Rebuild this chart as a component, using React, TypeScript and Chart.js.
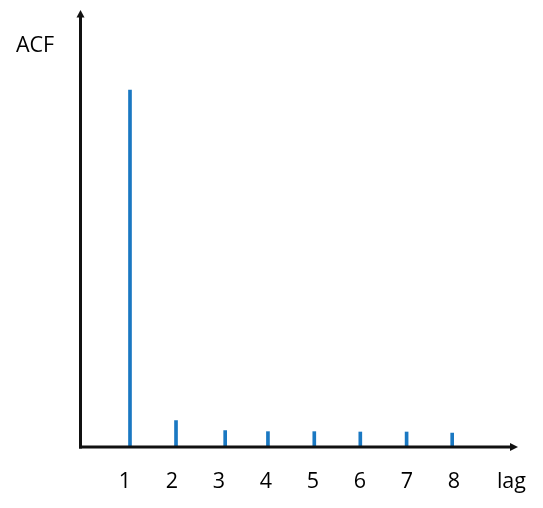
import React, { useEffect, useRef } from "react";
import { Chart, registerables } from "chart.js";

Chart.register(...registerables);

// Data
const lagPositions = [1.085, 2.064, 3.11, 4.02, 5.006, 5.985, 6.97, 7.94];
const acfValues = [1.0, 0.074, 0.046, 0.043, 0.043, 0.042, 0.042, 0.039];
const xTickValues = [1, 2, 3, 4, 5, 6, 7, 8];
const xTickLabels = ["1", "2", "3", "4", "5", "6", "7", "8"];
const xAxisTitle = "lag";
const xAxisTitleValue = 9.2;
const yAxisTitle = "ACF";
const xMax = 9.34;
const yMax = 1.224;

const FONT = '21.5px "Open Sans", "Noto Sans", sans-serif';

const axesPlugin = {
  id: "arrowAxes",
  afterDatasetsDraw(chart: any) {
    const { ctx, chartArea, scales } = chart;
    const x = scales.x;
    const y = scales.y;
    const ox = x.getPixelForValue(0) + 1.5;
    const oy = y.getPixelForValue(0);
    const top = y.getPixelForValue(yMax);
    const right = x.getPixelForValue(xMax);
    ctx.save();
    ctx.strokeStyle = "#111111";
    ctx.fillStyle = "#111111";
    ctx.lineWidth = 3;
    // y axis
    ctx.beginPath();
    ctx.moveTo(ox, oy + 1.5);
    ctx.lineTo(ox, top + 5);
    ctx.stroke();
    ctx.beginPath();
    ctx.moveTo(ox, top);
    ctx.lineTo(ox - 4, top + 7.5);
    ctx.lineTo(ox + 4, top + 7.5);
    ctx.closePath();
    ctx.fill();
    // x axis
    ctx.beginPath();
    ctx.moveTo(ox - 1.5, oy);
    ctx.lineTo(right - 5, oy);
    ctx.stroke();
    ctx.beginPath();
    ctx.moveTo(right, oy);
    ctx.lineTo(right - 8, oy - 4);
    ctx.lineTo(right - 8, oy + 4);
    ctx.closePath();
    ctx.fill();

    // labels
    ctx.font = FONT;
    ctx.fillStyle = "#000000";
    ctx.textAlign = "center";
    ctx.textBaseline = "alphabetic";
    const labelY = chartArea.bottom + 41;
    xTickValues.forEach((v, i) => {
      ctx.fillText(xTickLabels[i], x.getPixelForValue(v) - 1, labelY);
    });
    ctx.fillText(xAxisTitle, x.getPixelForValue(xAxisTitleValue), labelY);
    ctx.fillText(yAxisTitle, 35, chartArea.top + 42);
    ctx.restore();
  },
};

export default function App() {
  const ref = useRef<HTMLCanvasElement | null>(null);
  useEffect(() => {
    if (!ref.current) return;
    const chart = new Chart(ref.current, {
      type: "bar",
      data: {
        datasets: [
          {
            data: lagPositions.map((p, i) => ({ x: p, y: acfValues[i] })),
            backgroundColor: "#1a78c2",
            borderWidth: 0,
            barThickness: 3,
          },
        ],
      },
      options: {
        responsive: false,
        animation: false,
        layout: { padding: { left: 79, right: 25, top: 10, bottom: 61 } },
        plugins: { legend: { display: false }, tooltip: { enabled: false } },
        scales: {
          x: { type: "linear", min: 0, max: xMax, offset: false, display: false },
          y: { type: "linear", min: 0, max: yMax, display: false },
        },
      },
      plugins: [axesPlugin],
    });
    return () => chart.destroy();
  }, []);
  return (
    <div style={{ position: "fixed", left: 0, top: 0, width: 543, height: 508, background: "#fff" }}>
      <canvas ref={ref} width={543} height={508} style={{ width: 543, height: 508 }} />
    </div>
  );
}
